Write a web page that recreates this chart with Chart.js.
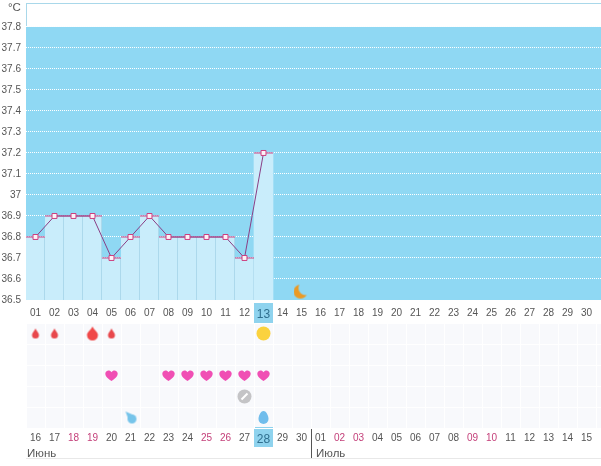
<!DOCTYPE html>
<html>
<head>
<meta charset="utf-8">
<script src="https://cdn.jsdelivr.net/npm/chart.js@4/dist/chart.umd.min.js"></script>
<style>
  html, body { margin: 0; padding: 0; background: #fff; overflow: hidden; }
  #page { position: relative; width: 601px; height: 466px; overflow: hidden; font-family: "Liberation Sans", sans-serif; color: #555; }
  canvas { position: absolute; left: 0; }
  #tempChart { top: 0; }
  #markChart { top: 323px; }
  .note { position: absolute; font-size: 11.5px; line-height: 14px; }
  #rule { position: absolute; left: 311px; top: 429px; width: 1px; height: 29px; background: #555; }
  #foot { position: absolute; left: 26px; top: 458px; width: 575px; height: 1px; background: #e8e8e8; }
</style>
</head>
<body>
<div id="page">
  <canvas id="tempChart" width="615" height="323"></canvas>
  <canvas id="markChart" width="615" height="143"></canvas>
  <div id="rule"></div>
  <div id="foot"></div>
  <span class="note" style="left:8px;top:0">°C</span>
  <span class="note" style="left:27px;top:446px">Июнь</span>
  <span class="note" style="left:316px;top:446px">Июль</span>
</div>
<script>
// Chart data (last empty label is the cut off column on the right)
const cycleDays = ['01','02','03','04','05','06','07','08','09','10','11','12','13','14','15',
                   '16','17','18','19','20','21','22','23','24','25','26','27','28','29','30',''];
const temperatures = [36.8,36.9,36.9,36.9,36.7,36.8,36.9,36.8,36.8,36.8,36.8,36.7,37.2];
const tempTicks = [36.5,36.6,36.7,36.8,36.9,37,37.1,37.2,37.3,37.4,37.5,37.6,37.7,37.8];
const moonPoints = [{x: '15', y: 36.54}];

const calendarDays = ['16','17','18','19','20','21','22','23','24','25','26','27','28','29','30',
                      '01','02','03','04','05','06','07','08','09','10','11','12','13','14','15',''];
const redDays = ['18','19','25','26','02','03','09','10'];
const markRows = ['bleeding','mood','love','pill','discharge'];
const lightBleeding = ['16','17','20'];
const heavyBleeding = ['19'];
const sunDays = ['28'];
const heartDays = ['20','23','24','25','26','27','28'];
const pillDays = ['27'];
const waterDays = ['21'];
const eggDays = ['28'];
const todayIndex = 12;

const FONT = '"Liberation Sans", sans-serif';
const BLUE = '#8fd8f3';

// Small icons used as point styles
function icon(size, draw) {
    const c = document.createElement('canvas');
    c.width = c.height = size;
    draw(c.getContext('2d'), size);
    return c;
}
function drop(color, w, h) {
    return icon(h + 2, (g, s) => {
        const cx = s / 2, r = w / 2, top = 1, cy = s - 1 - r;
        g.fillStyle = color;
        g.beginPath();
        g.moveTo(cx, top);
        g.bezierCurveTo(cx + r * 0.3, top + h * 0.25, cx + r, cy - r * 0.5, cx + r, cy);
        g.arc(cx, cy, r, 0, Math.PI);
        g.bezierCurveTo(cx - r, cy - r * 0.5, cx - r * 0.3, top + h * 0.25, cx, top);
        g.fill();
    });
}
const heartIcon = icon(13, (g) => {
    g.fillStyle = '#f04fb4';
    g.beginPath();
    g.moveTo(6.5, 12);
    g.bezierCurveTo(1, 8.5, 0, 6, 0.4, 4);
    g.bezierCurveTo(1, 1, 5, 0.6, 6.5, 3.2);
    g.bezierCurveTo(8, 0.6, 12, 1, 12.6, 4);
    g.bezierCurveTo(13, 6, 12, 8.5, 6.5, 12);
    g.fill();
});
const sunIcon = icon(15, (g) => {
    g.fillStyle = '#fbd23e';
    g.beginPath();
    g.arc(7.5, 7.5, 7, 0, Math.PI * 2);
    g.fill();
});
const pillIcon = icon(15, (g) => {
    g.fillStyle = '#c4c4c6';
    g.beginPath();
    g.arc(7.5, 7.5, 7, 0, Math.PI * 2);
    g.fill();
    g.strokeStyle = '#fff';
    g.lineWidth = 2;
    g.beginPath();
    g.moveTo(4.5, 10.5);
    g.lineTo(10.5, 4.5);
    g.stroke();
});
const eggIcon = icon(15, (g) => {
    g.fillStyle = '#70bdec';
    g.beginPath();
    g.moveTo(7.5, 1);
    g.bezierCurveTo(10.5, 1, 12.5, 6, 12.5, 9);
    g.arc(7.5, 9, 5, 0, Math.PI);
    g.bezierCurveTo(2.5, 6, 4.5, 1, 7.5, 1);
    g.fill();
});
const waterIcon = icon(14, (g) => {
    g.fillStyle = '#76c4ea';
    g.beginPath();
    g.arc(8.5, 8.5, 4.5, 0, Math.PI * 2);
    g.fill();
    g.beginPath();
    g.moveTo(2, 1);
    g.lineTo(10, 4.5);
    g.lineTo(5, 9);
    g.fill();
});
const moonIcon = icon(16, (g) => {
    g.fillStyle = '#ea9a25';
    g.beginPath();
    g.arc(7, 8, 7, 0, Math.PI * 2);
    g.fill();
    g.globalCompositeOperation = 'destination-out';
    g.beginPath();
    g.arc(12, 4.5, 7, 0, Math.PI * 2);
    g.fill();
});

// Blue field above the bars and the frame
const tempBackground = {
    id: 'tempBackground',
    beforeDraw(chart) {
        const { ctx, chartArea: a, scales } = chart;
        const top = scales.y.getPixelForValue(37.8);
        ctx.save();
        ctx.fillStyle = BLUE;
        ctx.fillRect(a.left, top, chart.width - a.left, a.bottom - top);
        ctx.fillStyle = '#a9d8ea';
        ctx.fillRect(a.left, a.top, chart.width - a.left, 1);
        ctx.fillRect(a.left, a.top, 1, top - a.top);
        ctx.restore();
    }
};
// Today's box behind the tick label
const todayBox = {
    id: 'todayBox',
    beforeDraw(chart, args, opts) {
        const { ctx, chartArea: a, scales } = chart;
        const x = scales.x.getPixelForValue(todayIndex);
        ctx.save();
        ctx.fillStyle = '#8fd3ee';
        ctx.fillRect(x - 9.5, a.bottom + opts.top, 19, opts.height);
        ctx.restore();
    }
};
const markBackground = {
    id: 'markBackground',
    beforeDraw(chart) {
        const { ctx, chartArea: a } = chart;
        ctx.save();
        ctx.fillStyle = '#f8f9fc';
        ctx.fillRect(a.left, a.top, chart.width - a.left, a.bottom - a.top);
        ctx.restore();
    }
};

function tickFont(index) {
    return { family: FONT, size: index === todayIndex ? 12 : 10 };
}
// Scales must not reserve room for half a label at their ends
function noPadding(s) {
    s.paddingLeft = s.paddingRight = s.paddingTop = s.paddingBottom = 0;
}

new Chart(document.getElementById('tempChart'), {
    type: 'bar',
    data: {
        labels: cycleDays,
        datasets: [
            {
                type: 'line',
                data: moonPoints,
                showLine: false,
                pointStyle: moonIcon,
                order: 0
            },
            {
                type: 'line',
                data: temperatures,
                borderColor: '#8a3f86',
                borderWidth: 1,
                tension: 0,
                pointStyle: 'rect',
                pointRadius: 3.5,
                pointBackgroundColor: '#fdf2f7',
                pointBorderColor: '#cc3f7f',
                pointBorderWidth: 1,
                order: 1
            },
            {
                type: 'line',
                data: temperatures,
                showLine: false,
                pointStyle: 'line',
                pointRadius: 9.5,
                pointBorderColor: '#cc3f7f',
                pointBorderWidth: 1,
                order: 2
            },
            {
                data: temperatures,
                backgroundColor: '#c9edfb',
                borderColor: '#9fd0e4',
                borderWidth: ctx => ({ right: ctx.dataIndex < todayIndex ? 1 : 0 }),
                borderSkipped: false,
                barPercentage: 1,
                categoryPercentage: 1,
                order: 3
            }
        ]
    },
    options: {
        responsive: false,
        animation: false,
        layout: { autoPadding: false, padding: { top: 3 } },
        plugins: { legend: { display: false }, tooltip: { enabled: false }, todayBox: { top: 3, height: 20 } },
        scales: {
            x: {
                grid: { display: false, drawTicks: false },
                border: { display: false },
                afterFit: s => { s.height = 23; noPadding(s); },
                ticks: {
                    autoSkip: false,
                    maxRotation: 0,
                    padding: 7,
                    color: c => c.index === todayIndex ? '#2f6f8f' : '#555',
                    font: c => tickFont(c.index)
                }
            },
            y: {
                min: 36.5,
                max: 37.914,
                afterFit: s => { s.width = 26; noPadding(s); },
                afterBuildTicks: s => { s.ticks = tempTicks.map(value => ({ value })); },
                grid: { color: '#ffffff', lineWidth: 1, drawTicks: false },
                border: { display: false, dash: [1, 1] },
                ticks: {
                    padding: 5,
                    color: '#555',
                    font: { family: FONT, size: 10 },
                    callback: v => String(v)
                }
            }
        }
    },
    plugins: [tempBackground, todayBox]
});

function markSet(days, row, style) {
    return { data: days.map(x => ({ x, y: row })), showLine: false, pointStyle: style };
}

new Chart(document.getElementById('markChart'), {
    type: 'line',
    data: {
        labels: calendarDays,
        datasets: [
            markSet(lightBleeding, 'bleeding', drop('#e8484c', 7, 10)),
            markSet(heavyBleeding, 'bleeding', drop('#f04848', 11, 14)),
            markSet(sunDays, 'bleeding', sunIcon),
            markSet(heartDays, 'love', heartIcon),
            markSet(pillDays, 'pill', pillIcon),
            markSet(waterDays, 'discharge', waterIcon),
            markSet(eggDays, 'discharge', eggIcon)
        ]
    },
    options: {
        responsive: false,
        animation: false,
        layout: { autoPadding: false },
        plugins: { legend: { display: false }, tooltip: { enabled: false }, todayBox: { top: -1, height: 20 } },
        scales: {
            x: {
                type: 'category',
                offset: true,
                grid: { color: '#ffffff', offset: true, drawTicks: false },
                border: { display: false },
                afterFit: s => { s.height = 38; noPadding(s); },
                ticks: {
                    autoSkip: false,
                    maxRotation: 0,
                    padding: 4,
                    color: c => c.index === todayIndex ? '#2f6f8f'
                        : redDays.includes(calendarDays[c.index]) ? '#c4407a' : '#555',
                    font: c => tickFont(c.index)
                }
            },
            y: {
                type: 'category',
                labels: markRows,
                offset: true,
                afterFit: s => { s.width = 26; noPadding(s); },
                grid: { color: '#ffffff', offset: true, drawTicks: false },
                border: { display: false },
                ticks: { display: false }
            }
        }
    },
    plugins: [markBackground, todayBox]
});
</script>
</body>
</html>
